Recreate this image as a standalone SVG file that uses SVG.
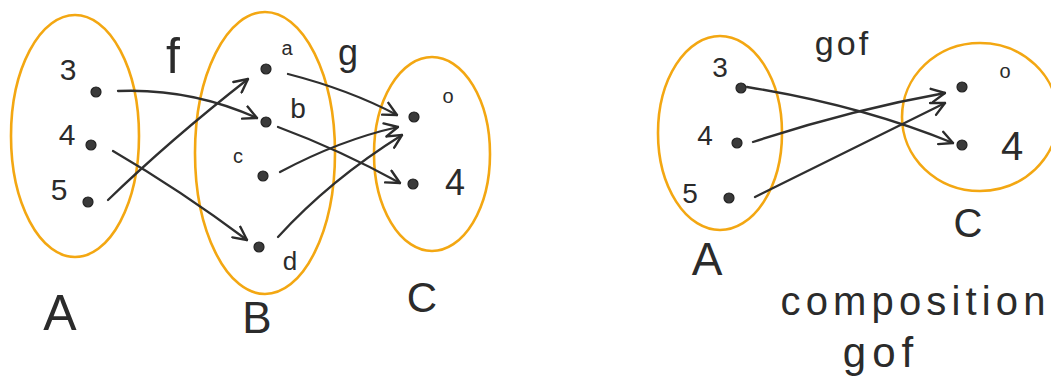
<svg xmlns="http://www.w3.org/2000/svg" width="1051" height="386" viewBox="0 0 1051 386">
<defs>
<marker id="arr" viewBox="0 0 12 12" refX="11" refY="6" markerWidth="16" markerHeight="16" markerUnits="userSpaceOnUse" orient="auto">
<path d="M1,1 L11,6 L1,11" fill="none" stroke="#2b2b2b" stroke-width="1.8" stroke-linecap="round" stroke-linejoin="round"/>
</marker>
<style>
.set{fill:none;stroke:#f3a712;stroke-width:2.6}
.dot{fill:#3a3a3a;stroke:#222;stroke-width:1.2}
.t{font-family:"Liberation Sans","DejaVu Sans",sans-serif;fill:#2b2b2b;text-anchor:middle}
.e{fill:none;stroke:#2f2f2f;stroke-width:2.3;stroke-linecap:round;marker-end:url(#arr)}
</style>
</defs>
<rect width="1051" height="386" fill="#ffffff"/>

<g id="setA1"><ellipse class="set" cx="75" cy="136" rx="64" ry="121"/><text class="t" x="60" y="330" font-size="50">A</text></g>
<g id="setB1"><ellipse class="set" cx="265" cy="153" rx="70" ry="141"/><text class="t" x="257" y="333" font-size="44">B</text></g>
<g id="setC1"><ellipse class="set" cx="432" cy="154" rx="58" ry="97"/><text class="t" x="422" y="312" font-size="42">C</text></g>

<g id="a3"><circle class="dot" cx="96" cy="92" r="5"/><text class="t" x="68" y="80" font-size="30">3</text></g>
<g id="a4"><circle class="dot" cx="91" cy="145" r="5"/><text class="t" x="67" y="145" font-size="30">4</text></g>
<g id="a5"><circle class="dot" cx="88" cy="202" r="5"/><text class="t" x="59" y="200" font-size="30">5</text></g>
<g id="ba"><circle class="dot" cx="266" cy="69" r="5"/><text class="t" x="287" y="55" font-size="20">a</text></g>
<g id="bb"><circle class="dot" cx="266" cy="122" r="5"/><text class="t" x="298" y="118" font-size="28">b</text></g>
<g id="bc"><circle class="dot" cx="263" cy="176" r="5"/><text class="t" x="238" y="163" font-size="20">c</text></g>
<g id="bd"><circle class="dot" cx="259" cy="247" r="5"/><text class="t" x="290" y="270" font-size="26">d</text></g>
<g id="c0"><circle class="dot" cx="414" cy="117" r="5"/><text class="t" x="448" y="103" font-size="20">o</text></g>
<g id="c4"><circle class="dot" cx="413" cy="184" r="5"/><text class="t" x="455" y="195" font-size="36">4</text></g>

<g id="labelsLeft">
<text class="t" x="173" y="73" font-size="50">f</text>
<text class="t" x="348" y="65" font-size="36">g</text>
</g>

<g id="setA2"><ellipse class="set" cx="720" cy="133" rx="62" ry="97"/><text class="t" x="707" y="275" font-size="46">A</text></g>
<g id="setC2"><ellipse class="set" cx="980" cy="117" rx="78" ry="74"/><text class="t" x="968" y="237" font-size="40">C</text></g>

<g id="r3"><circle class="dot" cx="741" cy="88" r="5"/><text class="t" x="720" y="77" font-size="28">3</text></g>
<g id="r4"><circle class="dot" cx="737" cy="143" r="5"/><text class="t" x="705" y="145" font-size="28">4</text></g>
<g id="r5"><circle class="dot" cx="729" cy="198" r="5"/><text class="t" x="690" y="203" font-size="28">5</text></g>
<g id="rc0"><circle class="dot" cx="962" cy="87" r="5"/><text class="t" x="1005" y="78" font-size="20">o</text></g>
<g id="rc4"><circle class="dot" cx="962" cy="145" r="5"/><text class="t" x="1012" y="160" font-size="40">4</text></g>

<g id="labelsRight">
<text class="t" x="843" y="55" font-size="34" letter-spacing="3">gof</text>
<text class="t" x="913" y="315" font-size="40" textLength="265" lengthAdjust="spacing">composition</text>
<text class="t" x="881" y="367" font-size="42" letter-spacing="6">gof</text>
</g>

<g id="connectors">
<path class="e" d="M118,91 Q190,88 257,118"/>
<path class="e" d="M113,151 Q180,190 247,240"/>
<path class="e" d="M108,200 Q170,140 248,79"/>
<path class="e" d="M288,74 Q350,90 397,115"/>
<path class="e" d="M278,127 Q340,150 400,183"/>
<path class="e" d="M280,172 Q340,140 398,127"/>
<path class="e" d="M278,237 Q330,180 402,135"/>
<path class="e" d="M747,87 Q860,105 953,143"/>
<path class="e" d="M753,142 Q850,110 945,93"/>
<path class="e" d="M755,197 Q850,150 945,103"/>
</g>
</svg>
